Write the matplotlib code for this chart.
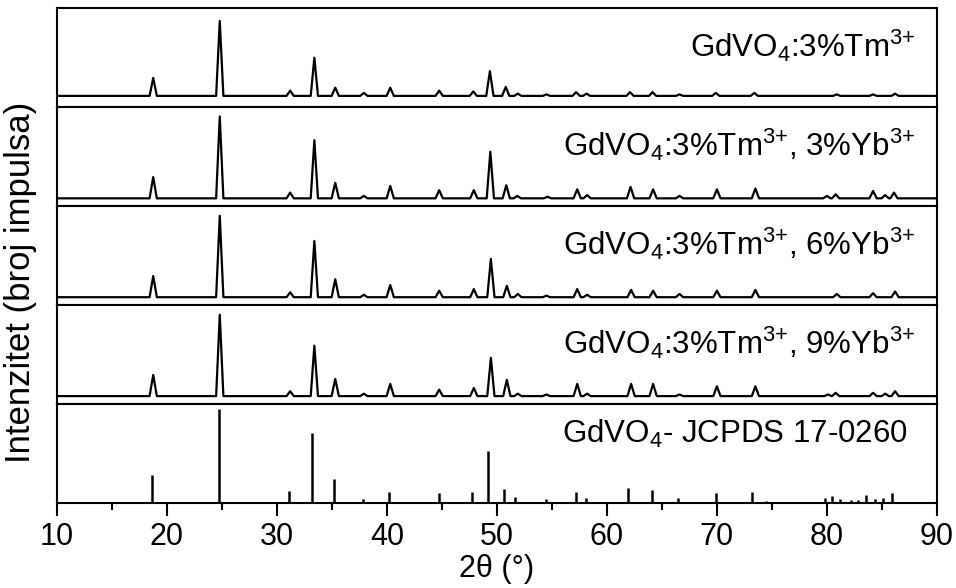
import numpy as np
import matplotlib
matplotlib.use("Agg")
import matplotlib.pyplot as plt

plt.rcParams['font.family'] = ['Liberation Sans', 'DejaVu Sans']
plt.rcParams['mathtext.fontset'] = 'custom'
plt.rcParams['mathtext.rm'] = 'Liberation Sans'
plt.rcParams['mathtext.it'] = 'Liberation Sans:italic'

# difraktogrami: polozaji pikova (2theta) i relativni intenziteti (%)
labels = [r'GdVO$_4$:3%Tm$^{3{+}}$',
          r'GdVO$_4$:3%Tm$^{3{+}}$, 3%Yb$^{3{+}}$',
          r'GdVO$_4$:3%Tm$^{3{+}}$, 6%Yb$^{3{+}}$',
          r'GdVO$_4$:3%Tm$^{3{+}}$, 9%Yb$^{3{+}}$',
          r'GdVO$_4$- JCPDS 17-0260']

pik_1 = [18.75, 24.8, 31.2, 33.4, 35.3, 37.9, 40.3, 44.75, 47.85, 49.36, 50.8, 51.9,
         54.5, 57.2, 58.15, 62.1, 64.15, 66.6, 69.9, 73.4, 80.9, 84.2, 86.2]
int_1 = [24, 100, 7, 51, 11, 4, 11, 7, 6, 33, 12, 3,
         2, 5, 3, 5, 5, 2, 4, 4, 2, 2, 3]

pik_2 = [18.75, 24.8, 31.2, 33.4, 35.3, 37.9, 40.3, 44.75, 47.9, 49.4, 50.85, 51.85,
         54.6, 57.3, 58.2, 62.15, 64.2, 66.6, 70.0, 73.5, 80.0, 80.8, 84.2, 85.3, 86.1]
int_2 = [26, 100, 7, 71, 19, 3, 15, 10, 10, 57, 16, 3,
         2, 11, 4, 14, 11, 3, 11, 12, 3, 5, 9, 4, 7]

pik_3 = [18.75, 24.8, 31.2, 33.4, 35.3, 37.9, 40.3, 44.75, 47.9, 49.45, 50.9, 51.9,
         54.5, 57.3, 58.2, 62.2, 64.2, 66.6, 70.0, 73.5, 80.9, 84.2, 86.2]
int_3 = [26, 100, 6, 69, 22, 3, 15, 8, 10, 47, 14, 4,
         2, 10, 3, 9, 8, 4, 8, 9, 4, 5, 7]

pik_4 = [18.75, 24.8, 31.2, 33.4, 35.3, 37.9, 40.3, 44.75, 47.9, 49.45, 50.9, 51.9,
         54.5, 57.3, 58.2, 62.2, 64.2, 66.6, 70.0, 73.5, 80.1, 80.8, 84.2, 85.3, 86.2]
int_4 = [26, 100, 6, 62, 21, 3, 15, 8, 10, 47, 20, 3,
         2, 15, 3, 15, 15, 2, 12, 12, 2, 4, 4, 3, 6]

# JCPDS 17-0260 referentne linije
jcpds_pik = [18.6, 24.7, 31.1, 33.2, 35.2, 37.8, 40.15, 44.7, 47.7, 49.2, 50.6, 51.6,
             54.45, 57.15, 58.1, 61.9, 64.1, 66.5, 69.9, 73.2, 74.45,
             79.8, 80.5, 81.2, 82.2, 82.85, 83.6, 84.4, 85.1, 85.9]
jcpds_int = [30, 100, 13, 75, 25, 4, 12, 10, 12, 55, 15, 6,
             4, 12, 5, 16, 14, 5, 10, 12, 2,
             5, 7, 4, 3, 3, 8, 4, 5, 10]

uzorci = [(pik_1, int_1), (pik_2, int_2), (pik_3, int_3), (pik_4, int_4)]
ylims = [(-15, 117), (-9.4, 111.4), (-9.5, 112), (-9.5, 112)]


def linija(pikovi, intenziteti, w=0.33):
    x = [10.0]
    y = [0.0]
    for p, h in sorted(zip(pikovi, intenziteti)):
        x += [p - w, p, p + w]
        y += [0, h, 0]
    x.append(90.0)
    y.append(0.0)
    return x, y


fig, axes = plt.subplots(5, 1, sharex=True, figsize=(9.56, 5.88), dpi=100)
fig.subplots_adjust(left=0.0596, right=0.980, top=0.986, bottom=0.145, hspace=0)

for i, ax in enumerate(axes):
    for s in ax.spines.values():
        s.set_linewidth(1.5)
    ax.set_yticks([])
    if i < 4:
        x, y = linija(*uzorci[i])
        ax.plot(x, y, color='black', lw=1.6)
        ax.set_ylim(*ylims[i])
        ax.tick_params(axis='x', which='both', bottom=False, labelbottom=False)
        ax.text(0.975, 0.62, labels[i], transform=ax.transAxes, ha='right',
                va='center', fontsize=22.5)
    else:
        ax.vlines(jcpds_pik, 0, jcpds_int, color='black', lw=1.8)
        ax.set_ylim(0, 106)
        ax.text(0.967, 0.70, labels[i], transform=ax.transAxes, ha='right',
                va='center', fontsize=22.5)

ax = axes[-1]
ax.set_xlim(10, 90)
ax.set_xticks(np.arange(10, 91, 10))
ax.set_xticks(np.arange(15, 90, 10), minor=True)
ax.tick_params(axis='x', which='major', length=9, width=1.5, labelsize=22,
               direction='out', pad=5)
ax.tick_params(axis='x', which='minor', length=5, width=1.5, direction='out')
ax.set_xlabel('2θ (°)', fontsize=22, labelpad=1)
fig.supylabel('Intenzitet (broj impulsa)', fontsize=25, x=0.004, y=0.52)

fig.savefig('out.png', dpi=100)
